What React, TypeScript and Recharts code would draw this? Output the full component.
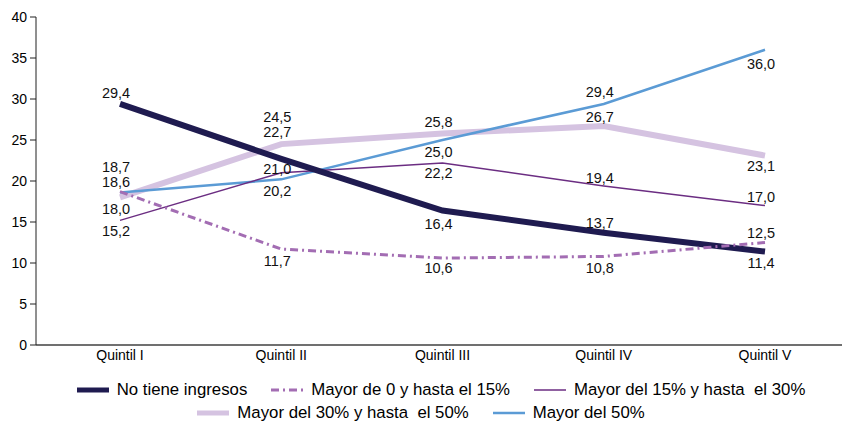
import React from "react";
import { LineChart, Line, XAxis, YAxis, Legend } from "recharts";

const QUINTILES = ["Quintil I", "Quintil II", "Quintil III", "Quintil IV", "Quintil V"];
const NO_INGRESOS = [29.4, 22.7, 16.4, 13.7, 11.4];
const HASTA_15 = [18.7, 11.7, 10.6, 10.8, 12.5];
const HASTA_30 = [15.2, 21.0, 22.2, 19.4, 17.0];
const HASTA_50 = [18.0, 24.5, 25.8, 26.7, 23.1];
const MAS_50 = [18.6, 20.2, 25.0, 29.4, 36.0];
const Y_TICKS = [0, 5, 10, 15, 20, 25, 30, 35, 40];

const font = "'Liberation Sans', Arial, sans-serif";

const data = QUINTILES.map((q, i) => ({
  q,
  a: NO_INGRESOS[i],
  b: HASTA_15[i],
  c: HASTA_30[i],
  d: HASTA_50[i],
  e: MAS_50[i],
}));

// label offset (px) from each point, above (-) or below (+)
const SERIES = [
  { key: "d", name: "Mayor del 30% y hasta  el 50%", color: "#D5C3E1", width: 6, dash: undefined, dy: [12, -27, -11, -9, 10] },
  { key: "e", name: "Mayor del 50%", color: "#5B9BD5", width: 2.5, dash: undefined, dy: [-10, 12, 12, -12, 14] },
  { key: "c", name: "Mayor del 15% y hasta  el 30%", color: "#6B2D82", width: 1.5, dash: undefined, dy: [11, -4, 10, -8, -9] },
  { key: "a", name: "No tiene ingresos", color: "#1F1B50", width: 6, dash: undefined, dy: [-11, -27, 13, -10, 11] },
  { key: "b", name: "Mayor de 0 y hasta el 15%", color: "#A36DB3", width: 3, dash: "8 4 2 4", dy: [-25, 12, 10, 12, -10] },
];

const LEGEND_ROWS = [["a", "b", "c"], ["d", "e"]];

const fmt = (v: number) => v.toFixed(1).replace(".", ",");

function LegendBox() {
  return (
    <div style={{ fontFamily: font, fontSize: 16.8, color: "#000", paddingTop: 7 }}>
      {LEGEND_ROWS.map((row, r) => (
        <div
          key={r}
          style={{
            display: "flex",
            justifyContent: "center",
            lineHeight: "23px",
            paddingLeft: r === 0 ? 40 : 0,
          }}
        >
          {row.map((k) => {
            const s = SERIES.find((x) => x.key === k)!;
            return (
              <span
                key={k}
                style={{ display: "inline-flex", alignItems: "center", margin: "0 12px", whiteSpace: "pre" }}
              >
                <svg width={32} height={8} style={{ marginRight: 8 }}>
                  <line
                    x1={0}
                    y1={4}
                    x2={32}
                    y2={4}
                    stroke={s.color}
                    strokeWidth={Math.min(s.width, 5)}
                    strokeDasharray={s.dash}
                  />
                </svg>
                {s.name}
              </span>
            );
          })}
        </div>
      ))}
    </div>
  );
}

export default function App() {
  return (
    <div style={{ position: "absolute", left: 0, top: 0, width: 842, height: 421, background: "#fff" }}>
      <LineChart width={842} height={421} data={data} margin={{ top: 17, right: 0, left: 0, bottom: 0 }}>
        <XAxis
          dataKey="q"
          padding={{ left: 84, right: 77 }}
          tickLine={false}
          tickSize={0}
          tickMargin={5}
          height={26}
          axisLine={{ stroke: "#404040", strokeWidth: 1.5 }}
          tick={{ fill: "#000", fontSize: 14, fontFamily: font }}
        />
        <YAxis
          domain={[0, 40]}
          ticks={Y_TICKS}
          width={36}
          tickSize={6}
          tickMargin={3}
          interval={0}
          axisLine={{ stroke: "#202020" }}
          tickLine={{ stroke: "#202020" }}
          tick={{ fill: "#000", fontSize: 14, fontFamily: font }}
        />
        <Legend verticalAlign="bottom" height={50} content={() => <LegendBox />} />
        {SERIES.map((s) => (
          <Line
            key={s.key}
            type="linear"
            dataKey={s.key}
            name={s.name}
            stroke={s.color}
            strokeWidth={s.width}
            strokeDasharray={s.dash}
            isAnimationActive={false}
            activeDot={false}
            dot={(p: any) => (
              <text
                key={`${s.key}-${p.index}`}
                x={p.cx - 4}
                y={p.cy + s.dy[p.index]}
                textAnchor="middle"
                dominantBaseline="central"
                fontFamily={font}
                fontSize={14.5}
                fill="#111"
              >
                {fmt(p.payload[s.key])}
              </text>
            )}
          />
        ))}
      </LineChart>
    </div>
  );
}
